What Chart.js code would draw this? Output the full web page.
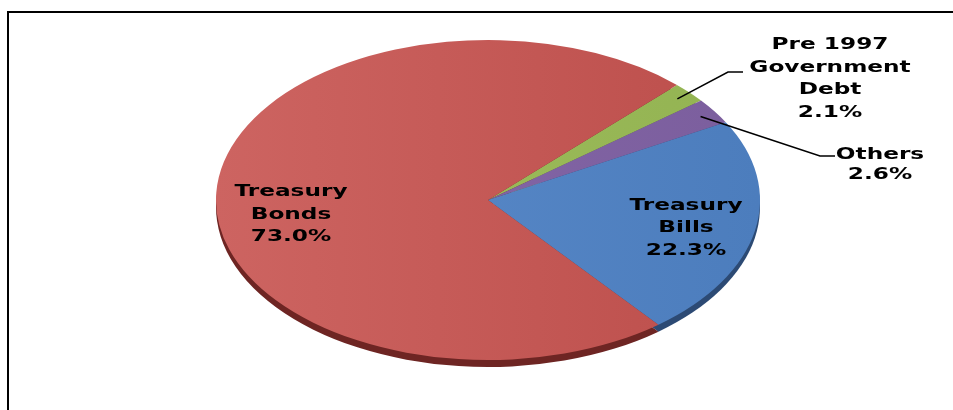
<!DOCTYPE html>
<html>
<head>
<meta charset="utf-8">
<script src="https://cdn.jsdelivr.net/npm/chart.js@4"></script>
<style>
  html, body { margin: 0; padding: 0; background: #fff; }
  canvas { display: block; }
</style>
</head>
<body>
<canvas id="c" width="953" height="410"></canvas>
<script>
// ---- data ----
const categories = ['Pre 1997 Government Debt', 'Others', 'Treasury Bills', 'Treasury Bonds'];
const values = [2.1, 2.6, 22.3, 73.0];
const nameLines = [['Pre 1997', 'Government', 'Debt'], ['Others'], ['Treasury', 'Bills'], ['Treasury', 'Bonds']];

// ---- styles / layout ----
const topColors = [['#A0BF5E', '#93B352'], ['#8769AB', '#7B5E9D'], ['#5C8CCB', '#4C7DBD'], ['#CD6461', '#BC4E4B']];
const rimColors = ['#5E7530', '#4A3766', '#2C4A74', '#6E2523'];
const SX = 272 / 160;      // horizontal stretch of the tilted pie
const DEPTH = 7;           // 3D rim thickness
const labelPos = [
  { x: 830, ys: [45, 68, 90, 113], leader: [[728, 72], [743, 72]], f: 0.94 },
  { x: 880, ys: [155, 175], leader: [[820, 156], [835, 156]], f: 0.94 },
  { x: 686, ys: [206, 228, 251] },
  { x: 291, ys: [192, 214.5, 237] }
];

const piePlugin = {
  id: 'tiltedPie',
  beforeDraw(chart) {
    const ctx = chart.ctx;
    ctx.save();
    ctx.fillStyle = '#fff';
    ctx.fillRect(0, 0, chart.width, chart.height);
    ctx.strokeStyle = '#000';
    ctx.lineWidth = 2;
    ctx.beginPath();
    ctx.moveTo(8, 410);
    ctx.lineTo(8, 12);
    ctx.lineTo(953, 12);
    ctx.stroke();
    ctx.restore();
  },
  beforeDatasetsDraw(chart) {
    const ctx = chart.ctx;
    const meta = chart.getDatasetMeta(0);
    const cx = meta.data[0].x;
    ctx.save();
    ctx.translate(cx, 0);
    ctx.scale(SX, 1);
    ctx.translate(-cx, 0);
    meta.data.forEach((arc, i) => {
      ctx.beginPath();
      ctx.moveTo(arc.x, arc.y + DEPTH);
      ctx.arc(arc.x, arc.y + DEPTH, arc.outerRadius, arc.startAngle, arc.endAngle);
      ctx.closePath();
      ctx.fillStyle = rimColors[i];
      ctx.fill();
    });
  },
  afterDatasetsDraw(chart) {
    chart.ctx.restore();
  },
  afterDraw(chart) {
    const ctx = chart.ctx;
    const meta = chart.getDatasetMeta(0);
    ctx.save();
    ctx.fillStyle = '#000';
    ctx.strokeStyle = '#000';
    ctx.lineWidth = 1.5;
    ctx.font = 'bold 16px "DejaVu Sans"';
    ctx.textAlign = 'center';
    ctx.textBaseline = 'middle';
    meta.data.forEach((arc, i) => {
      const p = labelPos[i];
      if (p.leader) {
        const mid = (arc.startAngle + arc.endAngle) / 2;
        const sx = arc.x + SX * arc.outerRadius * p.f * Math.cos(mid);
        const sy = arc.y + arc.outerRadius * p.f * Math.sin(mid);
        ctx.beginPath();
        ctx.moveTo(sx, sy);
        p.leader.forEach(pt => ctx.lineTo(pt[0], pt[1]));
        ctx.stroke();
      }
      const lines = nameLines[i].concat([values[i].toFixed(1) + '%']);
      lines.forEach((t, k) => {
        ctx.save();
        ctx.translate(p.x, p.ys[k]);
        ctx.scale(1.45, 1);
        ctx.fillText(t, 0, 0);
        ctx.restore();
      });
    });
    ctx.restore();
  }
};

new Chart(document.getElementById('c'), {
  type: 'pie',
  data: {
    labels: categories,
    datasets: [{
      data: values,
      clip: false,
      borderWidth: 0,
      backgroundColor: (c) => {
        const ch = c.chart;
        const i = c.dataIndex;
        if (!ch.chartArea || i === undefined) return topColors[i || 0][0];
        const a = ch.chartArea;
        const g = ch.ctx.createLinearGradient(a.left, 0, a.right, 0);
        g.addColorStop(0, topColors[i][0]);
        g.addColorStop(1, topColors[i][1]);
        return g;
      }
    }]
  },
  options: {
    responsive: false,
    animation: false,
    rotation: 44,
    layout: { padding: { top: 40, bottom: 50, left: 328, right: 305 } },
    plugins: { legend: { display: false }, tooltip: { enabled: false } },
    events: []
  },
  plugins: [piePlugin]
});
</script>
</body>
</html>
